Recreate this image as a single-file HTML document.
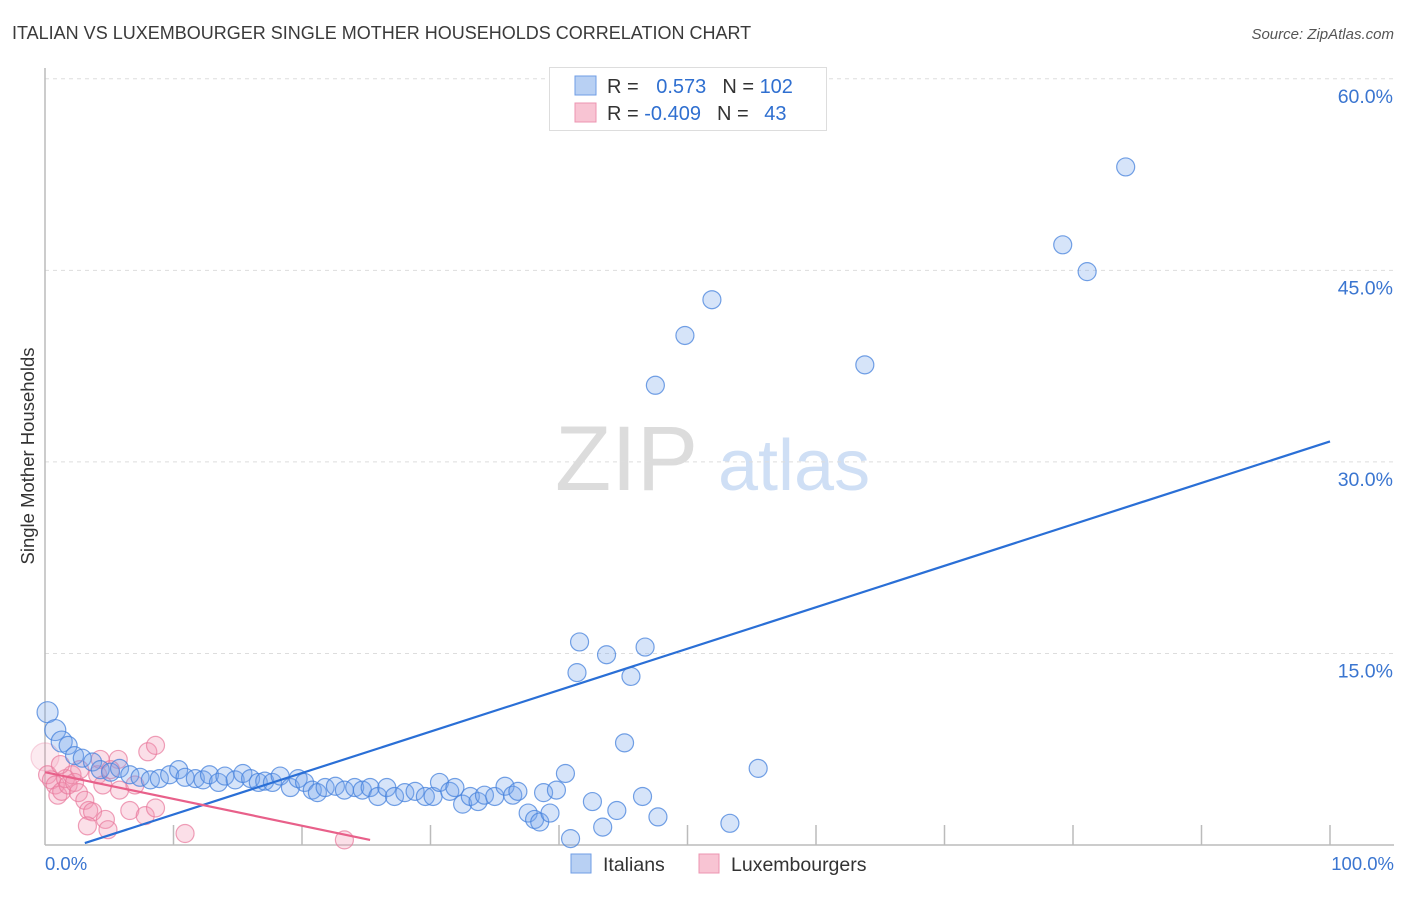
<!DOCTYPE html>
<html><head><meta charset="utf-8">
<style>
body{margin:0;background:#fff;width:1406px;height:892px;overflow:hidden;font-family:"Liberation Sans",sans-serif;}
svg text{font-family:"Liberation Sans",sans-serif;}
</style></head>
<body>
<svg id="chart" width="1406" height="892" xmlns="http://www.w3.org/2000/svg">
<text x="12" y="39" font-size="18" fill="#3a3a3a">ITALIAN VS LUXEMBOURGER SINGLE MOTHER HOUSEHOLDS CORRELATION CHART</text>
<text x="1394" y="39" font-size="15" fill="#555" text-anchor="end" font-style="italic">Source: ZipAtlas.com</text>
<text x="555" y="490" font-size="92" fill="#dcdcdc" font-family="Liberation Serif">ZIP</text>
<text x="718" y="490" font-size="72" fill="#cfdff5">atlas</text>
<text transform="translate(34,456) rotate(-90)" font-size="18.5" fill="#333" text-anchor="middle">Single Mother Households</text>
<g id="grid"></g>
<g id="pts"></g>
<g id="lines"></g>
<rect x="549.5" y="67.5" width="277" height="63" fill="#fff" stroke="#ddd"/>
<rect x="575" y="76" width="21" height="19" fill="#b8d0f3" stroke="#6f9ee6"/>
<rect x="575" y="103" width="21" height="19" fill="#f8c4d3" stroke="#ec94b0"/>
<text x="607" y="93" font-size="20" fill="#333">R = <tspan fill="#2f6fd0" dx="12">0.573</tspan><tspan fill="#333" dx="16">N = </tspan><tspan fill="#2f6fd0">102</tspan></text>
<text x="607" y="120" font-size="20" fill="#333">R = <tspan fill="#2f6fd0">-0.409</tspan><tspan fill="#333" dx="16">N = </tspan><tspan fill="#2f6fd0" dx="10">43</tspan></text>
<rect x="571" y="854" width="20" height="19" fill="#b8d0f3" stroke="#6f9ee6"/>
<text x="603" y="871" font-size="19.5" fill="#333">Italians</text>
<rect x="699" y="854" width="20" height="19" fill="#f8c4d3" stroke="#ec94b0"/>
<text x="731" y="871" font-size="19.5" fill="#333">Luxembourgers</text>
<text x="45" y="870" font-size="18.5" fill="#3a75d0">0.0%</text>
<text x="1394" y="870" font-size="18.5" fill="#3a75d0" text-anchor="end">100.0%</text>
</svg>
<script>
const yTicks=[15,30,45,60];
const yTickLabels=["15.0%","30.0%","45.0%","60.0%"];
const xTicks=[10,20,30,40,50,60,70,80,90,100];
const italiansX=[0.2,0.8,1.3,1.8,2.3,2.9,3.7,4.3,5.1,5.8,6.6,7.4,8.2,8.9,9.7,10.4,10.9,11.7,12.3,12.8,13.5,14.0,14.8,15.4,16.0,16.6,17.1,17.7,18.3,19.1,19.7,20.2,20.8,21.2,21.8,22.6,23.3,24.1,24.7,25.3,25.9,26.6,27.2,28.0,28.8,29.6,30.2,30.7,31.5,31.9,32.5,33.1,33.7,34.2,35.0,35.8,36.4,36.8,37.6,38.1,38.5,39.3,38.8,39.8,40.5,40.9,42.6,43.4,44.5,46.5,47.7,53.3,55.5,45.1,41.4,41.6,43.7,45.6,46.7,47.5,49.8,51.9,63.8,79.2,81.1,84.1];
const italiansY=[10.4,9.0,8.1,7.8,7.0,6.8,6.5,5.9,5.7,6.0,5.5,5.3,5.1,5.2,5.5,5.9,5.3,5.2,5.1,5.5,4.9,5.4,5.1,5.6,5.2,4.9,5.0,4.9,5.4,4.5,5.2,4.9,4.3,4.1,4.5,4.6,4.3,4.5,4.3,4.5,3.8,4.5,3.8,4.1,4.2,3.8,3.8,4.9,4.2,4.5,3.2,3.8,3.4,3.9,3.8,4.6,3.9,4.2,2.5,2.0,1.8,2.5,4.1,4.3,5.6,0.5,3.4,1.4,2.7,3.8,2.2,1.7,6.0,8.0,13.5,15.9,14.9,13.2,15.5,36.0,39.9,42.7,37.6,47.0,44.9,53.1];
const luxX=[0,0.2,0.5,0.8,1.0,1.3,1.6,1.8,2.1,2.3,2.6,3.1,3.4,3.7,3.3,4.3,4.7,4.9,4.1,5.7,5.8,6.6,7.0,7.8,8.0,8.6,8.6,10.9,23.3,4.5,2.7,1.2,5.1];
const luxY=[6.9,5.5,5.1,4.7,3.9,4.2,5.2,4.7,5.5,4.9,4.1,3.5,2.7,2.6,1.5,6.7,2.0,1.2,5.5,6.7,4.3,2.7,4.7,2.3,7.3,7.8,2.9,0.9,0.4,4.7,5.9,6.3,5.9];
const blueTrend=[3.1,0.15,100,31.6];
const pinkTrend=[0,5.7,25.3,0.4];
const NS="http://www.w3.org/2000/svg";
const X=v=>45+v*12.85, Y=v=>845-v*12.77;
function mk(tag,attrs,parent){const e=document.createElementNS(NS,tag);for(const k in attrs)e.setAttribute(k,attrs[k]);parent.appendChild(e);return e;}
const grid=document.getElementById('grid');
yTicks.forEach((t,i)=>{
 const l=mk('line',{x1:45,x2:1394,y1:Y(t),y2:Y(t),stroke:'#ddd','stroke-dasharray':'4,4'},grid);
 
 
 const tx=mk('text',{x:1393,y:Y(t)+24,'font-size':19.5,fill:'#3a75d0','text-anchor':'end'},grid);
 tx.textContent=yTickLabels[i];
 
 
});
xTicks.forEach(t=>{
 const l=mk('line',{x1:X(t),x2:X(t),y1:825,y2:845,stroke:'#bbb','stroke-width':1.5},grid);
 
 
});
const ax=mk('line',{x1:45,x2:1394,y1:845,y2:845,stroke:'#bbb','stroke-width':1.5},grid);


const ay=mk('line',{x1:45,x2:45,y1:68,y2:845,stroke:'#bbb','stroke-width':1.5},grid);


const pts=document.getElementById('pts');
luxX.forEach((x,i)=>{
 const c=mk('circle',{cx:X(x),cy:Y(luxY[i]),r:i==0?14:9,fill:i==0?'rgba(242,150,178,0.2)':'rgba(242,150,178,0.3)',stroke:i==0?'rgba(232,120,155,0.3)':'rgba(232,120,155,0.7)','stroke-width':1.2},pts);
 
 
});
italiansX.forEach((x,i)=>{
 const c=mk('circle',{cx:X(x),cy:Y(italiansY[i]),r:i<3?10.5:9,fill:'rgba(120,165,235,0.3)',stroke:'rgba(70,130,220,0.75)','stroke-width':1.2},pts);
 
 
});
const lines=document.getElementById('lines');
const bl=mk('line',{x1:X(blueTrend[0]),y1:Y(blueTrend[1]),x2:X(blueTrend[2]),y2:Y(blueTrend[3]),stroke:'#2a6fd6','stroke-width':2.2},lines);


const pl=mk('line',{x1:X(pinkTrend[0]),y1:Y(pinkTrend[1]),x2:X(pinkTrend[2]),y2:Y(pinkTrend[3]),stroke:'#e8608a','stroke-width':2.2},lines);


</script>
</body></html>
